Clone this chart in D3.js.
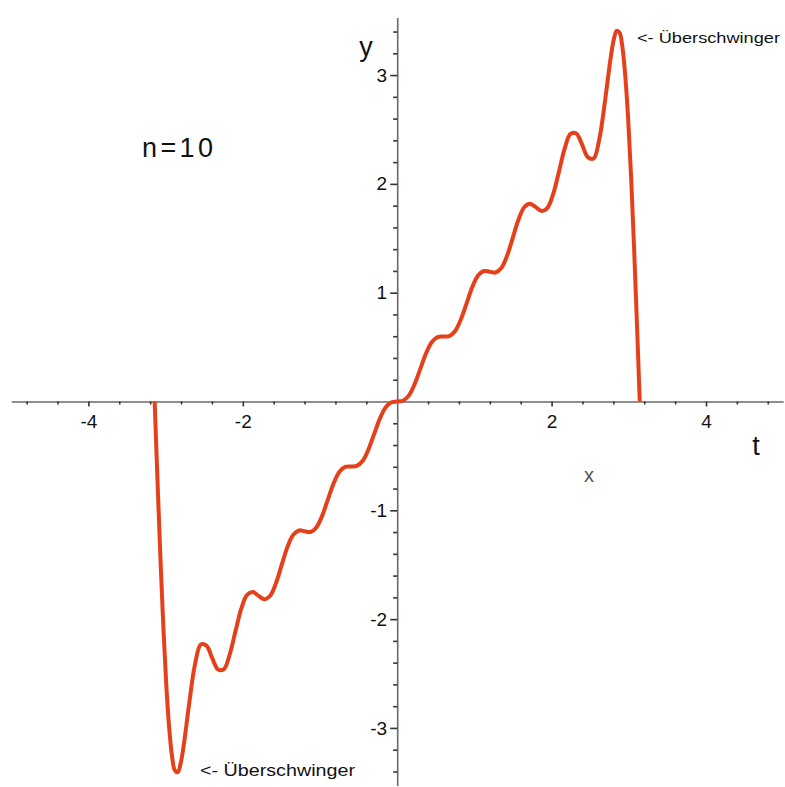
<!DOCTYPE html>
<html>
<head>
<meta charset="utf-8">
<script src="https://cdn.jsdelivr.net/npm/d3@7"></script>
<style>
  body { margin: 0; background: #fff; }
  text { font-family: "Liberation Sans", Arial, sans-serif; }
</style>
</head>
<body>
<svg id="chart" width="785" height="787"></svg>
<script>
// Fourier partial sum, n = 10
var tValues = [-3.1416,-3.1042,-3.0668,-3.0294,-2.9920,-2.9546,-2.9172,-2.8798,-2.8424,-2.8050,-2.7676,
    -2.6928,-2.6180,-2.5432,-2.4684,-2.3936,-2.3188,-2.2440,-2.1692,-2.0944,-2.0196,-1.9448,-1.8700,
    -1.7952,-1.7204,-1.6456,-1.5708,-1.4960,-1.4212,-1.3464,-1.2716,-1.1968,-1.1220,-1.0472,-0.9724,
    -0.8976,-0.8228,-0.7480,-0.6732,-0.5984,-0.5236,-0.4488,-0.3740,-0.2992,-0.2244,-0.1496,-0.0748,
    0,
    0.0748,0.1496,0.2244,0.2992,0.3740,0.4488,0.5236,0.5984,0.6732,0.7480,0.8228,0.8976,0.9724,
    1.0472,1.1220,1.1968,1.2716,1.3464,1.4212,1.4960,1.5708,1.6456,1.7204,1.7952,1.8700,1.9448,
    2.0196,2.0944,2.1692,2.2440,2.3188,2.3936,2.4684,2.5432,2.6180,2.6928,2.7676,2.8050,2.8424,
    2.8798,2.9172,2.9546,2.9920,3.0294,3.0668,3.1042,3.1416];
var yValues = [0,-0.741,-1.443,-2.070,-2.593,-2.991,-3.257,-3.391,-3.407,-3.325,-3.171,
    -2.767,-2.411,-2.233,-2.246,-2.364,-2.464,-2.459,-2.324,-2.110,-1.904,-1.778,-1.751,
    -1.786,-1.817,-1.785,-1.670,-1.502,-1.336,-1.225,-1.185,-1.193,-1.199,-1.157,-1.051,
    -0.900,-0.751,-0.646,-0.601,-0.597,-0.592,-0.547,-0.443,-0.300,-0.157,-0.054,-0.007,
    0,
    0.007,0.054,0.157,0.300,0.443,0.547,0.592,0.597,0.601,0.646,0.751,0.900,1.051,
    1.157,1.199,1.193,1.185,1.225,1.336,1.502,1.670,1.785,1.817,1.786,1.751,1.778,
    1.904,2.110,2.324,2.459,2.464,2.364,2.246,2.233,2.411,2.767,3.171,3.325,3.407,
    3.391,3.257,2.991,2.593,2.070,1.443,0.741,0];

var xMinorTicks = [-4.8,-4.4,-3.6,-3.2,-2.8,-2.4,-1.6,-1.2,-0.8,-0.4,0.4,0.8,1.2,1.6,2.4,2.8,3.2,3.6,4.4,4.8];
var xLabelTicks = [-4, -2, 2, 4];
var yMinorTicks = [-3.4,-3.2,-2.8,-2.6,-2.4,-2.2,-1.8,-1.6,-1.4,-1.2,-0.8,-0.6,-0.4,-0.2,
    0.2,0.4,0.6,0.8,1.2,1.4,1.6,1.8,2.2,2.4,2.6,2.8,3.2,3.4];
var yLabelTicks = [-3, -2, -1, 1, 2, 3];

var svg = d3.select("#chart");

var x = d3.scaleLinear().domain([-5, 5]).range([11.2, 783.2]);
var y = d3.scaleLinear().domain([-3.53, 3.53]).range([785.6, 17.4]);

var axisColor = "#6a6a6a";

// x axis (ticks below the line)
var gx = svg.append("g").attr("transform", `translate(0,${y(0)})`);
gx.call(d3.axisBottom(x).tickValues(xMinorTicks).tickSize(3).tickSizeOuter(0).tickFormat(""));
var gxl = svg.append("g").attr("transform", `translate(0,${y(0)})`);
gxl.call(d3.axisBottom(x).tickValues(xLabelTicks).tickSize(5).tickPadding(8).tickFormat(d => d));
gxl.select(".domain").remove();

// y axis (ticks to the left)
var gy = svg.append("g").attr("transform", `translate(${x(0)},0)`);
gy.call(d3.axisLeft(y).tickValues(yMinorTicks).tickSize(4).tickSizeOuter(0).tickFormat(""));
var gyl = svg.append("g").attr("transform", `translate(${x(0)},0)`);
gyl.call(d3.axisLeft(y).tickValues(yLabelTicks).tickSize(7).tickPadding(3).tickFormat(d => d));
gyl.select(".domain").remove();

svg.selectAll(".domain").attr("stroke", axisColor).attr("stroke-width", 1.6);
svg.selectAll(".tick line").attr("stroke", "#333").attr("stroke-width", 1.6);
svg.selectAll(".tick text")
    .attr("fill", "#111")
    .style("font-size", "19px")
    .style("font-family", "Liberation Sans, Arial, sans-serif");

// curve
var pts = tValues.map((t, i) => [t, yValues[i]]);
var line = d3.line()
    .x(d => x(d[0]))
    .y(d => y(d[1]))
    .curve(d3.curveCatmullRom.alpha(0.5));

svg.append("path")
    .datum(pts)
    .attr("d", line)
    .attr("fill", "none")
    .attr("stroke", "#e6401b")
    .attr("stroke-width", 4)
    .attr("stroke-linejoin", "round");

// axis names
svg.append("text").attr("x", 366).attr("y", 56)
    .attr("text-anchor", "middle").style("font-size", "27px").attr("fill", "#111").text("y");
svg.append("text").attr("x", 756).attr("y", 455)
    .attr("text-anchor", "middle").style("font-size", "27px").attr("fill", "#111").text("t");
svg.append("text").attr("x", 589).attr("y", 482)
    .attr("text-anchor", "middle").style("font-size", "20px").style("font-weight", 300)
    .attr("fill", "#555").text("x");

// annotations
svg.append("text").attr("x", 142).attr("y", 157)
    .attr("textLength", 71).attr("lengthAdjust", "spacing")
    .style("font-size", "27px").attr("fill", "#111").text("n=10");
svg.append("text").attr("x", 637).attr("y", 43)
    .attr("textLength", 143).attr("lengthAdjust", "spacingAndGlyphs")
    .style("font-size", "15px").attr("fill", "#111").text("<- Überschwinger");
svg.append("text").attr("x", 200).attr("y", 776)
    .attr("textLength", 155).attr("lengthAdjust", "spacingAndGlyphs")
    .style("font-size", "16px").attr("fill", "#111").text("<- Überschwinger");
</script>
</body>
</html>
